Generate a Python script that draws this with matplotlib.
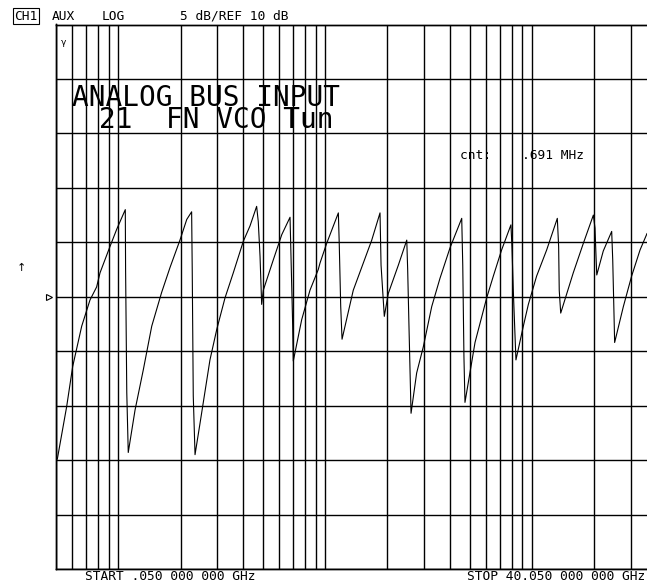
import numpy as np
import matplotlib
matplotlib.use("Agg")
import matplotlib.pyplot as plt

# trace: frequency (GHz) and level (dB)
freq_ghz = [0.14, 0.77, 1.18, 1.79, 2.35, 2.80, 3.03, 3.70, 4.16, 4.74,
            4.76, 4.84, 4.94, 5.40, 5.96, 6.53, 7.20, 7.77, 8.44, 8.90,
            9.23, 9.27, 9.34, 9.46, 9.80, 10.47, 10.93, 11.49, 12.05, 12.73,
            13.18, 13.63, 13.74, 13.86, 13.97, 14.08, 14.76, 15.33, 15.89, 15.95,
            16.07, 16.11, 16.68, 17.24, 17.80, 17.92, 18.37, 19.16, 19.22, 19.32,
            19.41, 20.17, 20.85, 21.42, 21.98, 22.05, 22.27, 22.54, 23.22, 23.79,
            23.85, 23.94, 24.08, 24.46, 24.91, 25.48, 26.04, 26.72, 27.51, 27.58,
            27.66, 27.73, 28.41, 29.20, 29.65, 30.21, 30.84, 30.91, 31.00, 31.18,
            31.68, 32.02, 32.58, 33.26, 33.98, 34.07, 34.11, 34.21, 35.06, 35.74,
            36.42, 36.53, 36.60, 36.65, 37.09, 37.66, 37.73, 37.82, 37.86, 38.45,
            39.01, 39.58, 40.05]
level_db = [-4.9, -0.1, 3.6, 7.3, 9.7, 10.9, 12.2, 14.6, 16.2, 18.0,
            12.5, 1.2, -4.3, -0.4, 3.3, 7.3, 10.4, 12.7, 15.2, 17.1,
            17.8, 12.5, 0.9, -4.5, -1.6, 4.2, 7.0, 9.9, 12.2, 15.1,
            16.5, 18.3, 16.9, 13.7, 9.3, 10.6, 13.4, 15.7, 17.3, 14.0,
            7.3, 4.1, 7.9, 10.6, 12.5, 13.1, 14.9, 17.7, 14.9, 9.1,
            6.1, 10.6, 13.1, 15.2, 17.7, 12.9, 8.2, 10.3, 12.9, 15.2,
            12.6, 7.3, -0.7, 3.0, 5.4, 9.1, 11.7, 14.5, 17.2, 12.9,
            4.5, 0.3, 5.8, 9.9, 11.9, 14.3, 16.6, 14.6, 10.6, 4.2,
            7.3, 9.3, 11.9, 14.3, 17.2, 14.6, 10.6, 8.5, 12.2, 14.9,
            17.5, 16.3, 13.7, 12.0, 14.2, 16.0, 13.4, 8.2, 5.8, 9.1,
            11.9, 14.3, 15.8]

start_ghz, stop_ghz = 0.05, 40.05
ref_db, db_per_div = 10, 5
y_lines = np.arange(ref_db - 5 * db_per_div, ref_db + 5 * db_per_div + 1, db_per_div)

# log graticule overlay (5 .. 3000)
grat = [m * 10 ** d for d in range(0, 4) for m in range(1, 10)]
grat = [g for g in grat if 5 <= g <= 3000]

W, H = 647, 586
fig = plt.figure(figsize=(W / 100, H / 100), dpi=100)
fig.patch.set_facecolor("white")
ax = fig.add_axes([56 / W, (H - 569) / H, 591 / W, (569 - 24.5) / H])

ax.plot(freq_ghz, level_db, color="black", lw=0.8)
ax.set_xlim(start_ghz, stop_ghz)
ax.set_ylim(y_lines[0], y_lines[-1])
ax.set_yticks(y_lines)
ax.set_xticks([])
ax.grid(axis="y", color="black", lw=1.0)
ax.tick_params(left=False, labelleft=False, bottom=False, labelbottom=False)

ax2 = ax.twiny()
ax2.set_xscale("log")
ax2.set_xlim(5, 3600)
ax2.set_xticks(grat)
ax2.xaxis.set_minor_locator(matplotlib.ticker.NullLocator())
ax2.grid(axis="x", color="black", lw=1.0)
ax2.tick_params(top=False, labeltop=False, bottom=False, labelbottom=False)

for a in (ax, ax2):
    for s in a.spines.values():
        s.set_color("black")
        s.set_linewidth(1.0)
    a.spines["right"].set_visible(False)

mono = "DejaVu Sans Mono"
small = 9.3

def px(x, y):
    return x / W, 1 - y / H

# header line
fig.text(*px(14, 19.5), "CH1", family=mono, fontsize=small, va="baseline",
         bbox=dict(boxstyle="square,pad=0.1", fc="white", ec="black", lw=0.8))
fig.text(*px(52, 19.5), "AUX", family=mono, fontsize=small, va="baseline")
fig.text(*px(102, 19.5), "LOG", family=mono, fontsize=small, va="baseline")
fig.text(*px(180, 19.5), "5 dB/REF 10 dB", family=mono, fontsize=small, va="baseline")

# title written on the screen
fig.text(*px(72, 106.5), "ANALOG BUS INPUT", family=mono, fontsize=20, va="baseline")
fig.text(*px(99, 128), "21  FN VCO Tun", family=mono, fontsize=20, va="baseline")

fig.text(*px(460, 159), "cnt:    .691 MHz", family=mono, fontsize=small, va="baseline")

# markers at the edge of the graticule
fig.text(*px(61, 45), "\u03b3", family="DejaVu Sans", fontsize=6.5, va="baseline")
fig.text(*px(21, 268), "\u2191", family="DejaVu Sans", fontsize=8, ha="center", va="center")
ax.plot([-0.012], [ref_db], marker=">", ms=5, mfc="white", mec="black", mew=0.8,
        transform=ax.get_yaxis_transform(), clip_on=False)

# footer
fig.text(*px(85, 580), "START .050 000 000 GHz", family=mono, fontsize=small, va="baseline")
fig.text(*px(645, 580), "STOP 40.050 000 000 GHz", family=mono, fontsize=small,
         va="baseline", ha="right")

fig.savefig("out.png", dpi=100)
